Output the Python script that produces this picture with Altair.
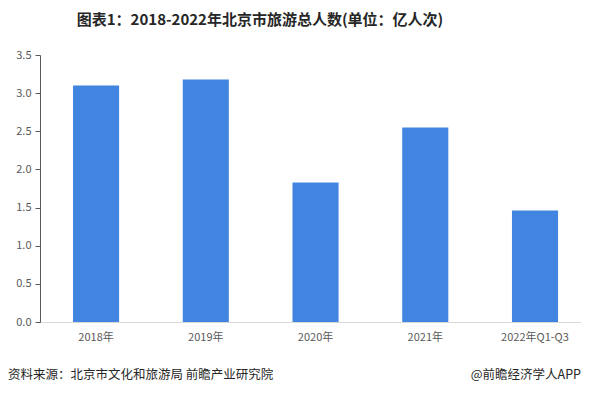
import altair as alt
import pandas as pd

categories = ["2018年", "2019年", "2020年", "2021年", "2022年Q1-Q3"]
values = [3.10, 3.18, 1.83, 2.55, 1.46]
y_ticks = [0, 0.5, 1.0, 1.5, 2.0, 2.5, 3.0, 3.5]
title_text = "图表1：2018-2022年北京市旅游总人数(单位：亿人次)"
source_text = "资料来源：北京市文化和旅游局 前瞻产业研究院"
brand_text = "@前瞻经济学人APP"

df = pd.DataFrame({"year": categories, "value": values})
FONT = "Noto Sans CJK SC"
W, H = 541, 267

bars = alt.Chart(df).mark_bar(color="#4285e0").encode(
    x=alt.X("year:N", sort=categories, title=None,
            scale=alt.Scale(paddingInner=0.58, paddingOuter=0.255, align=0.59),
            axis=alt.Axis(labelAngle=0, ticks=False, domainColor="#d9d9d9",
                          labelColor="#595959", labelFont=FONT, labelFontSize=11,
                          labelPadding=9)),
    y=alt.Y("value:Q", title=None,
            scale=alt.Scale(domain=[0, 3.5], nice=False),
            axis=alt.Axis(values=y_ticks, format=".1f", grid=False,
                          domainColor="#595959", tickColor="#595959", tickSize=5,
                          labelColor="#595959", labelFont=FONT, labelFontSize=11,
                          labelPadding=4)),
)

title = alt.Chart(pd.DataFrame({"t": [title_text]})).mark_text(
    font=FONT, fontSize=15, fontWeight="bold", color="#262626", align="center", baseline="middle"
).encode(text="t:N", x=alt.value(220), y=alt.value(-35))

src = alt.Chart(pd.DataFrame({"t": [source_text]})).mark_text(
    font=FONT, fontSize=12.5, color="#262626", align="left", baseline="middle"
).encode(text="t:N", x=alt.value(-32), y=alt.value(53 + H))

brand = alt.Chart(pd.DataFrame({"t": [brand_text]})).mark_text(
    font=FONT, fontSize=12.5, color="#262626", align="right", baseline="middle"
).encode(text="t:N", x=alt.value(W), y=alt.value(53 + H))

chart = alt.layer(bars, title, src, brand).properties(
    width=W, height=H, padding={"left": 0, "top": 5, "right": 0, "bottom": 0}
).configure_view(stroke=None)

chart.save("out.html", embed_options={"renderer": "svg", "actions": False})
